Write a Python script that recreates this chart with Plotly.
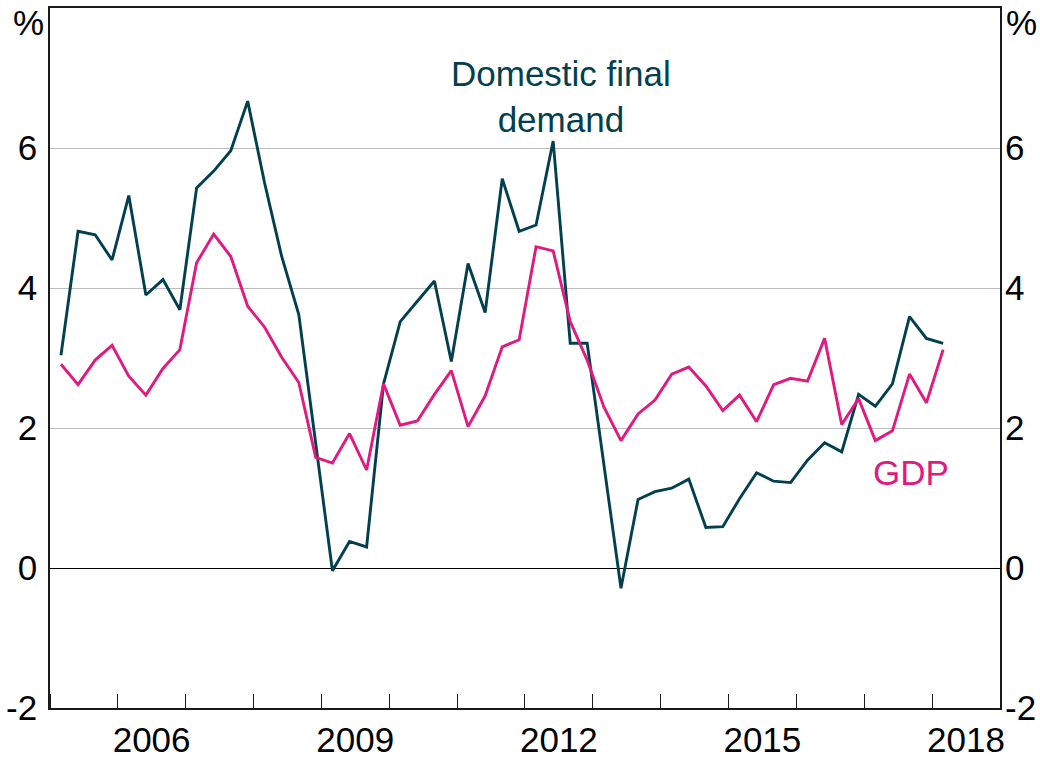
import pandas as pd
import plotly.graph_objects as go

# Quarterly observations, Mar 2005 - Mar 2018 (plotted at last month of quarter)
quarters = pd.date_range("2005-03-01", periods=53, freq="3MS")

dfd = [3.04, 4.81, 4.76, 4.40, 5.32, 3.90, 4.12, 3.69, 5.43, 5.67,
       5.96, 6.67, 5.50, 4.45, 3.62, 1.75, -0.04, 0.38, 0.30, 2.63,
       3.52, 3.81, 4.10, 2.95, 4.35, 3.65, 5.56, 4.81, 4.90, 6.10,
       3.21, 3.21, 1.45, -0.29, 0.98, 1.09, 1.14, 1.27, 0.58, 0.59,
       0.99, 1.36, 1.24, 1.22, 1.54, 1.79, 1.66, 2.48, 2.31, 2.63,
       3.59, 3.28, 3.21]

gdp = [2.91, 2.62, 2.97, 3.18, 2.74, 2.47, 2.85, 3.12, 4.36, 4.77,
       4.45, 3.74, 3.44, 3.01, 2.65, 1.58, 1.50, 1.92, 1.40, 2.63,
       2.04, 2.10, 2.48, 2.82, 2.02, 2.46, 3.16, 3.26, 4.59, 4.53,
       3.52, 2.97, 2.30, 1.82, 2.20, 2.40, 2.77, 2.87, 2.60, 2.25,
       2.47, 2.09, 2.62, 2.71, 2.67, 3.28, 2.05, 2.42, 1.82, 1.96,
       2.77, 2.36, 3.12]

ytick_vals = [-2, 0, 2, 4, 6]
ytick_text = ["-2", "0", "2", "4", "6"]
xlabel_years = [2006, 2009, 2012, 2015, 2018]

TEAL = "#03404F"
PINK = "#E2197F"
FONT = "Liberation Sans, Arial, sans-serif"
FS = 35

fig = go.Figure()
fig.add_trace(go.Scatter(x=quarters, y=dfd, mode="lines", name="Domestic final demand",
                         line=dict(color=TEAL, width=2.9), yaxis="y"))
fig.add_trace(go.Scatter(x=quarters, y=gdp, mode="lines", name="GDP",
                         line=dict(color=PINK, width=2.9), yaxis="y"))
# invisible trace to activate the right-hand axis
fig.add_trace(go.Scatter(x=[quarters[0]], y=[0], yaxis="y2", mode="markers",
                         marker=dict(opacity=0), hoverinfo="skip", showlegend=False))

fig.update_layout(
    width=1040, height=763,
    margin=dict(l=50, r=40, t=8, b=55),
    paper_bgcolor="white", plot_bgcolor="white",
    showlegend=False,
    font=dict(family=FONT, size=FS, color="black"),
    xaxis=dict(
        type="date",
        automargin=False,
        range=["2005-01-01", "2019-01-01"],
        tickmode="array",
        tickvals=[f"{y}-07-02" for y in xlabel_years],
        ticktext=[str(y) for y in xlabel_years],
        ticks="",
        showgrid=False,
        showline=True, linecolor="#1a1a1a", linewidth=1.6, mirror=True,
        tickfont=dict(family=FONT, size=FS),
        minor=dict(tickmode="linear", tick0="2006-01-01", dtick="M12",
                   ticks="inside", ticklen=14, tickwidth=1.4, tickcolor="#1a1a1a",
                   showgrid=False),
        zeroline=False,
    ),
    yaxis=dict(
        range=[-2, 8],
        automargin=False,
        tickmode="array", tickvals=ytick_vals, ticktext=ytick_text,
        ticks="", showgrid=True, gridcolor="#BDBDBD", gridwidth=1.4,
        zeroline=True, zerolinecolor="black", zerolinewidth=1.4,
        showline=True, linecolor="#1a1a1a", linewidth=1.6, mirror=True,
        tickfont=dict(family=FONT, size=FS),
        ticklabelstandoff=4,
    ),
    yaxis2=dict(
        range=[-2, 8], overlaying="y", side="right",
        automargin=False,
        tickmode="array", tickvals=ytick_vals, ticktext=ytick_text,
        ticks="", showgrid=False, zeroline=False, showline=False,
        tickfont=dict(family=FONT, size=FS),
        ticklabelstandoff=4,
    ),
)

fig.add_annotation(text="Domestic final<br>demand", x="2012-07-12", y=6.73,
                   xref="x", yref="y", showarrow=False,
                   font=dict(family=FONT, size=FS, color=TEAL), align="center")
fig.add_annotation(text="GDP", x="2017-09-08", y=1.37, xref="x", yref="y",
                   showarrow=False, font=dict(family=FONT, size=FS, color=PINK))
fig.add_annotation(text="%", x=0, y=1, xref="paper", yref="paper",
                   xanchor="right", yanchor="top", xshift=-4, yshift=7, showarrow=False,
                   font=dict(family=FONT, size=FS, color="black"))
fig.add_annotation(text="%", x=1, y=1, xref="paper", yref="paper",
                   xanchor="left", yanchor="top", xshift=4, yshift=7, showarrow=False,
                   font=dict(family=FONT, size=FS, color="black"))

fig.write_html("out.html", config={"displayModeBar": False},
               post_script="document.body.style.margin='0px';document.body.style.padding='0px';")
